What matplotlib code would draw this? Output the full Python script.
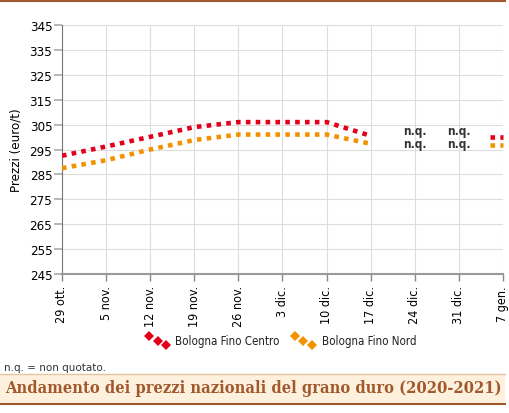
import matplotlib
matplotlib.use("Agg")
import matplotlib.pyplot as plt
import numpy as np
from matplotlib.lines import Line2D
from matplotlib.patches import Rectangle

dates = ["29 ott.", "5 nov.", "12 nov.", "19 nov.", "26 nov.", "3 dic.",
         "10 dic.", "17 dic.", "24 dic.", "31 dic.", "7 gen."]
centro = [292.5, 296.2, 300.1, 304.0, 306.0, 306.0, 306.0, 300.5, None, None, 300.0]
nord = [287.5, 290.7, 295.0, 298.8, 301.0, 301.0, 301.0, 297.3, None, None, 297.0]
yticks = list(range(245, 346, 10))
series_names = ["Bologna Fino Centro", "Bologna Fino Nord"]
colors = ["#e2001a", "#f39200"]

plt.rcParams['font.family'] = ["DejaVu Sans"]
plt.rcParams['font.stretch'] = 'condensed'

W, H = 510, 414
fig = plt.figure(figsize=(5.1, 4.14), dpi=100)
ax = fig.add_axes([62/W, 1-275/H, (503-62)/W, (275-26)/H])

LS = (0, (1.0, 1.15))
LW = 3.3
x = np.arange(len(dates))
for vals, col in zip([centro, nord], colors):
    v = np.array([np.nan if a is None else a for a in vals], dtype=float)
    ax.plot(x[:8], v[:8], color=col, lw=LW, linestyle=LS,
            dash_capstyle='butt', zorder=3)
    # isolated last point
    ax.plot([x[10]-0.3, x[10]], [v[10], v[10]], color=col, lw=LW,
            linestyle=LS, dash_capstyle='butt', zorder=3, clip_on=False)

for i in (8, 9):
    ax.text(x[i], 302.6, "n.q.", ha='center', va='center', fontsize=8.5,
            fontweight='bold', color='#333333')
    ax.text(x[i], 297.4, "n.q.", ha='center', va='center', fontsize=8.5,
            fontweight='bold', color='#333333')

ax.set_xlim(0, 10)
ax.set_ylim(245, 345)
ax.set_yticks(yticks)
ax.set_xticks(x)
ax.set_xticklabels(dates, rotation=90, fontsize=9)
ax.tick_params(axis='y', labelsize=9.5, length=6, color='#aaaaaa', width=1.2, pad=1)
ax.tick_params(axis='x', length=5, color='#888888', width=1, pad=3)
ax.grid(True, color='#dddddd', lw=0.8)
ax.set_axisbelow(True)
for s in ['top', 'right']:
    ax.spines[s].set_visible(False)
ax.spines['left'].set_color('#777777')
ax.spines['bottom'].set_color('#999999')
ax.spines['bottom'].set_linewidth(1.5)
ax.set_ylabel("Prezzi (euro/t)", fontsize=9.5, labelpad=5)

# legend (manual, three diagonal dots)
leg_pos = [(149, 175), (295, 322)]
for (hx, tx), col, name in zip(leg_pos, colors, series_names):
    xs = [hx/W, (hx+8.5)/W, (hx+17)/W]
    ys = [1-337/H, 1-341.5/H, 1-346/H]
    fig.add_artist(Line2D(xs, ys, color=col, lw=0, marker='D', markersize=5,
                          markeredgewidth=0, transform=fig.transFigure))
    fig.text(tx/W, 1-342/H, name, fontsize=8.3, va='center', ha='left', color='#222222')

# footnote
fig.text(4/W, 1-368/H, "n.q. = non quotato.", fontsize=7.5,
         family=["DejaVu Sans"], stretch='normal', color='#333333', va='center')

# top line
fig.add_artist(Line2D([0, 505/W], [1-1.5/H, 1-1.5/H], color='#a0582c', lw=1.5,
                      transform=fig.transFigure))
# title box
fig.add_artist(Rectangle((0, 1-404/H), 505/W, 29/H, transform=fig.transFigure,
                         facecolor='#fdf1de', edgecolor='none'))
fig.add_artist(Line2D([0, 505/W], [1-375/H, 1-375/H], color='#e3c4a2', lw=1,
                      transform=fig.transFigure))
fig.add_artist(Line2D([0, 505/W], [1-404.5/H, 1-404.5/H], color='#a0582c', lw=1.5,
                      transform=fig.transFigure))
fig.text(5/W, 1-389/H, "Andamento dei prezzi nazionali del grano duro (2020-2021)",
         fontsize=11.8, fontweight='bold', family=["DejaVu Serif"], stretch='condensed',
         color='#a0582c', va='center')

fig.savefig("out.png", dpi=100)
